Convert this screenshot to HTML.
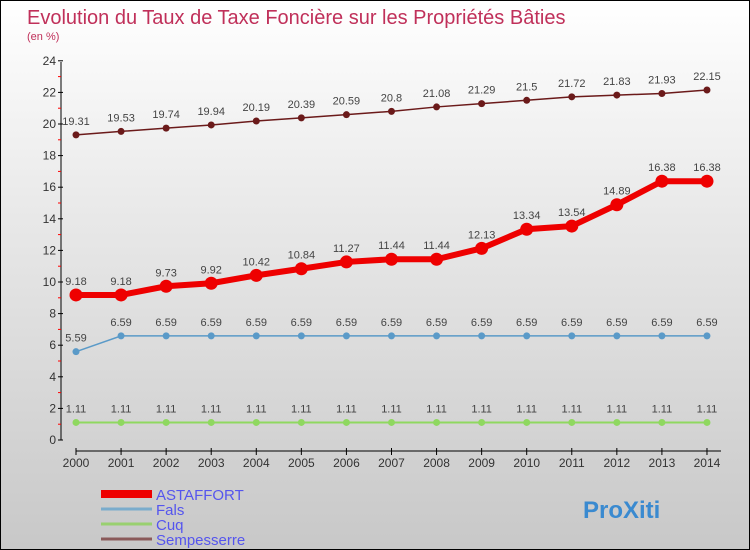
<!DOCTYPE html>
<html><head><meta charset="utf-8"><style>
body{margin:0}
#c{width:748px;height:548px;border:1px solid #000;background:linear-gradient(#fff,#e8e8e8 40%,#c8c8c8);position:relative;font-family:"Liberation Sans",sans-serif}
</style></head><body>
<div id="c">
<svg id="s" width="748" height="548" style="position:absolute;left:0;top:0">
<text x="26" y="23" font-size="20" fill="#c0305a">Evolution du Taux de Taxe Foncière sur les Propriétés Bâties</text>
<text x="26" y="39" font-size="11" fill="#c0305a">(en %)</text>
</svg>
</div>
<script>
const years=[2000,2001,2002,2003,2004,2005,2006,2007,2008,2009,2010,2011,2012,2013,2014];
const astaffort=[9.18,9.18,9.73,9.92,10.42,10.84,11.27,11.44,11.44,12.13,13.34,13.54,14.89,16.38,16.38];
const fals=[5.59,6.59,6.59,6.59,6.59,6.59,6.59,6.59,6.59,6.59,6.59,6.59,6.59,6.59,6.59];
const cuq=[1.11,1.11,1.11,1.11,1.11,1.11,1.11,1.11,1.11,1.11,1.11,1.11,1.11,1.11,1.11];
const semp=[19.31,19.53,19.74,19.94,20.19,20.39,20.59,20.8,21.08,21.29,21.5,21.72,21.83,21.93,22.15];
const yTicks=[0,2,4,6,8,10,12,14,16,18,20,22,24];
const s=document.getElementById('s');const NS='http://www.w3.org/2000/svg';
const X=i=>75+i*45.07, Y=v=>439-v*15.8;
function el(t,a,txt){const e=document.createElementNS(NS,t);for(const k in a)e.setAttribute(k,a[k]);if(txt!==undefined)e.textContent=txt;s.appendChild(e);return e;}
let ax=el('line',{x1:60,y1:61,x2:60,y2:439,stroke:'#000'});


yTicks.forEach(v=>{
 el('line',{x1:57,x2:62,y1:Y(v),y2:Y(v),stroke:'#000'});
 if(v<24) el('line',{x1:57,x2:60,y1:Y(v+1),y2:Y(v+1),stroke:'#f00'});
 const t=el('text',{x:55,y:Y(v)+4,'text-anchor':'end','font-size':12,fill:'#333'},v);
 
 
});
let xa=el('line',{x1:75,y1:450,x2:720,y2:450,stroke:'#000'});


years.forEach((y,i)=>{
 el('line',{x1:X(i),x2:X(i),y1:447,y2:454,stroke:'#000'});
 const t=el('text',{x:X(i),y:466,'text-anchor':'middle','font-size':12,fill:'#333'},y);
 
 
});
function series(d,col,w,r,name){
 const p=el('polyline',{points:d.map((v,i)=>X(i)+','+Y(v)).join(' '),fill:'none',stroke:col,'stroke-width':w});
 
 
 d.forEach((v,i)=>{
  const c=el('circle',{cx:X(i),cy:Y(v),r:r,fill:col});
  
  
  const t=el('text',{x:X(i),y:Y(v)-10,'text-anchor':'middle','font-size':11,fill:'#444'},v);
  
  
 });
}
series(semp,'#6b1a1a',1.5,3.5,'sempesserre');
series(fals,'#5a9ac8',1.5,3.5,'fals');
series(cuq,'#8fd860',2,3.5,'cuq');
series(astaffort,'#ee0000',6,6.5,'astaffort');
const leg=[['ASTAFFORT','#ee0000',8],['Fals','#7aaccc',3],['Cuq','#99d070',3],['Sempesserre','#8a5a5a',3]];
leg.forEach((l,i)=>{
 const y=493+i*15;
 const ln=el('line',{x1:100,x2:151,y1:y,y2:y,stroke:l[1],'stroke-width':l[2]});
 
 
 const t=el('text',{x:155,y:y+6,'font-size':15,fill:'#5555ee'},l[0]);
 
 
});
const b=el('text',{x:582,y:517,'font-size':24,'font-weight':'bold',fill:'#3a8ad0'},'ProXiti');


</script>
</body></html>
